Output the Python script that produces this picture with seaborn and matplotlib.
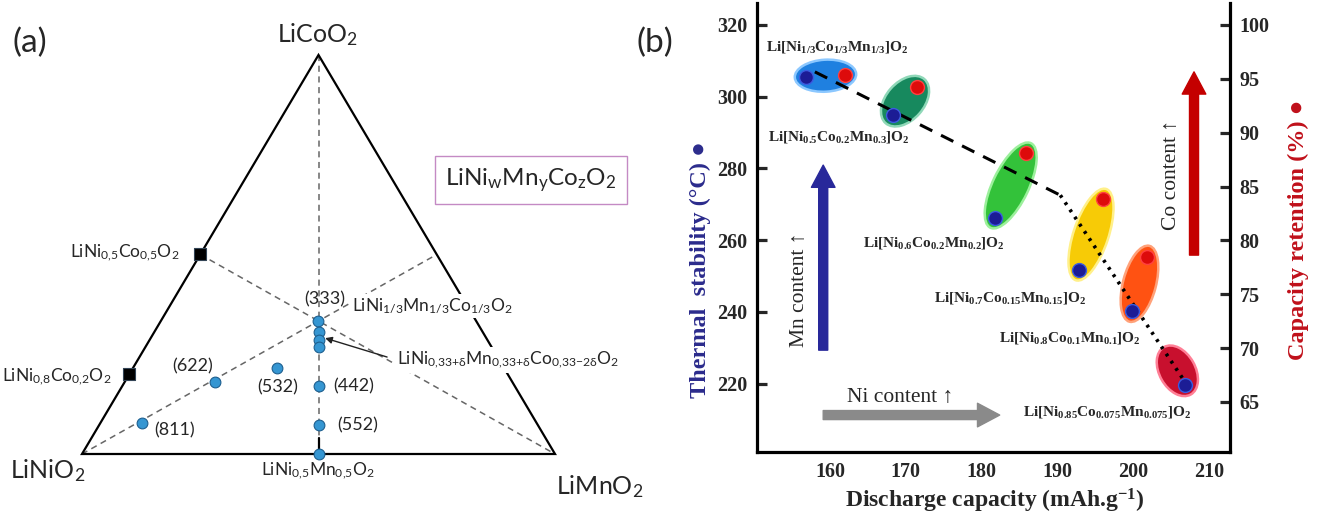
import numpy as np
import matplotlib
matplotlib.use("Agg")
import matplotlib.pyplot as plt
import matplotlib.transforms as mtransforms
from matplotlib.patches import Ellipse, Polygon
import seaborn as sns

# ---------------- panel (a): Li(Ni,Mn,Co)O2 ternary ----------------
# compositions as fractions (Ni, Mn, Co)
nmc_ni = [0.333, 0.346, 0.356, 0.365, 0.414, 0.463, 0.500, 0.480, 0.629, 0.834]
nmc_mn = [0.333, 0.348, 0.358, 0.367, 0.416, 0.465, 0.500, 0.304, 0.191, 0.088]
nmc_co = [0.333, 0.306, 0.286, 0.268, 0.170, 0.072, 0.000, 0.216, 0.180, 0.078]
nc_ni = [0.5, 0.8]
nc_mn = [0.0, 0.0]
nc_co = [0.5, 0.2]
code_labels = ["(333)", "(442)", "(552)", "(532)", "(622)", "(811)"]

# ---------------- panel (b): thermal stability / capacity retention ----------------
materials = [r"$\mathbf{Li[Ni_{1/3}Co_{1/3}Mn_{1/3}]O_2}$",
             r"$\mathbf{Li[Ni_{0.5}Co_{0.2}Mn_{0.3}]O_2}$",
             r"$\mathbf{Li[Ni_{0.6}Co_{0.2}Mn_{0.2}]O_2}$",
             r"$\mathbf{Li[Ni_{0.7}Co_{0.15}Mn_{0.15}]O_2}$",
             r"$\mathbf{Li[Ni_{0.8}Co_{0.1}Mn_{0.1}]O_2}$",
             r"$\mathbf{Li[Ni_{0.85}Co_{0.075}Mn_{0.075}]O_2}$"]
thermal_cap = [156.8, 168.3, 181.8, 192.9, 199.9, 206.9]
thermal_temp = [305.5, 294.9, 266.2, 251.7, 240.2, 219.6]
retention_cap = [162.0, 171.5, 185.9, 196.0, 201.8, 204.8]
retention_pct = [95.4, 94.2, 88.1, 83.8, 78.5, 69.2]
trend_cap = [158.0, 190.4, 207.0]
trend_temp = [306.9, 272.5, 220.0]
ellipse_colors = ["#1f80e0", "#17895e", "#33c23a", "#f7cb06", "#ff5212", "#c8102e"]
ellipse_edges = ["#8cc8ff", "#8fd8b8", "#9cf09c", "#fff08a", "#ffa27a", "#ff7f96"]
ellipse_minor = [32, 38, 36, 35, 33, 36]

sns.set_theme(style="white")
plt.rcParams["mathtext.fontset"] = "custom"
plt.rcParams["mathtext.rm"] = "Liberation Serif"
plt.rcParams["mathtext.bf"] = "Liberation Serif:bold"
plt.rcParams["mathtext.it"] = "Liberation Serif:italic"
plt.rcParams["mathtext.sf"] = "Lato"
plt.rcParams["font.family"] = ["Lato", "DejaVu Sans"]

fig = plt.figure(figsize=(13.2, 5.17), dpi=100)
W, H = 1320, 517

# ---- (a) ----
ax_a = fig.add_axes([0, 0, 0.5, 1])
ax_a.set_xlim(-82 / 473, (660 - 82) / 473)
ax_a.set_ylim(-(517 - 454) / 473, 454 / 473)
ax_a.axis("off")
TH = 0.8436  # apex height of the drawn triangle


def tern(ni, mn, co):
    ni, mn, co = np.asarray(ni), np.asarray(mn), np.asarray(co)
    return mn + 0.5 * co, TH * co


corners = np.array([tern(1, 0, 0), tern(0, 1, 0), tern(0, 0, 1)])
ax_a.add_patch(Polygon(corners, closed=True, fill=False, ec="black", lw=1.6, zorder=2))

guide = dict(color="#666666", ls=(0, (4, 3)), lw=1.1, zorder=1)
gx, gy = tern([0, 0.5], [0, 0.5], [1, 0])
ax_a.plot(gx, gy, **guide)
gx, gy = tern([0.5, 0], [0, 1], [0.5, 0])
ax_a.plot(gx, gy, **guide)
gx, gy = tern([1, 0], [0, 0.5], [0, 0.5])
ax_a.plot(gx, gy, **guide)
gx, gy = tern([0.48, 0.5], [0.48, 0.5], [0.04, 0])
ax_a.plot(gx, gy, color="black", lw=1.6, zorder=2)

px, py = tern(nmc_ni, nmc_mn, nmc_co)
sns.scatterplot(x=px, y=py, ax=ax_a, s=60, color="#3596d2", edgecolor="#1d5f8f",
                linewidth=0.8, zorder=5)
sx, sy = tern(nc_ni, nc_mn, nc_co)
sns.scatterplot(x=sx, y=sy, ax=ax_a, s=64, marker="s", color="black",
                edgecolor="#334455", linewidth=0.8, zorder=5)

big = dict(fontsize=18, ha="center", va="center")
ax_a.text(0.499, 0.886, r"$\mathsf{LiCoO_2}$", **big)
ax_a.text(-0.072, -0.034, r"$\mathsf{LiNiO_2}$", **big)
ax_a.text(1.095, -0.068, r"$\mathsf{LiMnO_2}$", **big)

small = dict(fontsize=12.5, va="center")
ax_a.text(0.207, 0.425, r"$\mathsf{LiNi_{0{,}5}Co_{0{,}5}O_2}$", ha="right", **small)
ax_a.text(0.063, 0.163, r"$\mathsf{LiNi_{0{,}8}Co_{0{,}2}O_2}$", ha="right", **small)
ax_a.text(0.499, -0.036, r"$\mathsf{LiNi_{0{,}5}Mn_{0{,}5}O_2}$", ha="center", **small)
ax_a.text(0.571, 0.313, r"$\mathsf{LiNi_{1/3}Mn_{1/3}Co_{1/3}O_2}$", ha="left", zorder=3,
          bbox=dict(fc="white", ec="none", pad=2), **small)
ax_a.text(0.666, 0.199, r"$\mathsf{LiNi_{0{,}33{+}\delta}Mn_{0{,}33{+}\delta}Co_{0{,}33{-}2\delta}O_2}$",
          ha="left", zorder=3, bbox=dict(fc="white", ec="none", pad=2), **small)
ax_a.annotate("", xy=(0.514, 0.245), xytext=(0.645, 0.205), zorder=6,
              arrowprops=dict(arrowstyle="-|>", color="#222222", lw=1.0,
                              mutation_scale=10, shrinkA=0, shrinkB=0))

code_pos = [(0.514, 0.326, "center"), (0.531, 0.142, "left"), (0.539, 0.061, "left"),
            (0.414, 0.140, "center"), (0.233, 0.186, "center"), (0.195, 0.051, "center")]
for lab, (cx, cy, ha) in zip(code_labels, code_pos):
    ax_a.text(cx, cy, lab, fontsize=13, ha=ha, va="center")

ax_a.text(0.949, 0.579, r"$\mathsf{LiNi_wMn_yCo_zO_2}$", fontsize=17.5, ha="center", va="center",
          bbox=dict(fc="white", ec="#c48ac4", lw=1.0, boxstyle="square,pad=0.42"))

fig.text(30 / W, 1 - 43 / H, "(a)", fontsize=24, ha="center", va="center")
fig.text(655 / W, 1 - 43 / H, "(b)", fontsize=24, ha="center", va="center")

# ---- (b) ----
serif = ["Liberation Serif", "DejaVu Serif"]
ax_b = fig.add_axes([757 / W, 1 - 452 / H, 473 / W, 449 / H])
ax_b.set_xlim(150.36, 212.8)
ax_b.set_ylim(200.9, 326.1)
ax_r = ax_b.twinx()
ax_r.set_ylim(60.35, 102.04)

for a in (ax_b, ax_r):
    a.spines["top"].set_visible(False)
    for s in a.spines.values():
        s.set_linewidth(2.3)
        s.set_color("black")
    a.tick_params(direction="in", length=7, width=2.3, labelsize=14.5, pad=7)
ax_r.spines["left"].set_visible(False)
ax_r.spines["bottom"].set_visible(False)
ax_b.spines["right"].set_visible(False)
ax_b.set_xticks(range(160, 211, 10))
ax_b.set_yticks(range(220, 321, 20))
ax_r.set_yticks(range(65, 101, 5))
ax_b.tick_params(axis="y", left=True, right=False)
ax_r.tick_params(axis="y", right=True, left=False)
for lab in ax_b.get_xticklabels() + ax_b.get_yticklabels() + ax_r.get_yticklabels():
    lab.set_fontfamily(serif)
    lab.set_fontweight("bold")

# ellipses around each blue/red pair, in display space
for i in range(len(thermal_cap)):
    pb = ax_b.transData.transform((thermal_cap[i], thermal_temp[i]))
    pr = ax_r.transData.transform((retention_cap[i], retention_pct[i]))
    d = pr - pb
    ang = np.degrees(np.arctan2(d[1], d[0]))
    e = Ellipse((pb + pr) / 2, np.hypot(*d) + 22, ellipse_minor[i], angle=ang,
                transform=mtransforms.IdentityTransform(), fc=ellipse_colors[i],
                ec=ellipse_edges[i], lw=1.8, zorder=1)
    ax_b.add_patch(e)

ax_b.plot(trend_cap[:2], trend_temp[:2], color="black", lw=2.2, ls=(0, (4.5, 3.2)), zorder=3)
ax_b.plot(trend_cap[1:], trend_temp[1:], color="black", lw=2.6, ls=(0, (0.8, 1.6)), zorder=3)

sns.scatterplot(x=thermal_cap, y=thermal_temp, ax=ax_b, s=100, color="#1c1c95",
                edgecolor="#3b5be0", linewidth=1.0, zorder=5)
# the last retention point sits hidden inside the crimson ellipse in the original
sns.scatterplot(x=retention_cap[:5], y=retention_pct[:5], ax=ax_r, s=100, color="#dd0b0b",
                edgecolor="#ff4040", linewidth=1.0, zorder=5)

lab_pos = [(160.9, 313.9), (161.2, 288.8), (173.7, 259.2), (183.8, 243.9), (191.7, 232.7), (196.6, 212.0)]
for m, (lx, ly) in zip(materials, lab_pos):
    ax_b.text(lx, ly, m, fontsize=11, ha="center", va="center", zorder=6)

ax_b.annotate("", xy=(159.1, 280.9), xytext=(159.1, 229.3),
              arrowprops=dict(width=6.5, headwidth=17, headlength=16, color="#28289a", shrink=0))
ax_b.annotate("", xy=(182.4, 211.2), xytext=(159.1, 211.2),
              arrowprops=dict(width=6.5, headwidth=17, headlength=16, color="#8a8a8a", shrink=0))
ax_b.annotate("", xy=(208.05, 306.9), xytext=(208.05, 255.8),
              arrowprops=dict(width=6.5, headwidth=17, headlength=16, color="#c40000", shrink=0))
txt = dict(fontsize=15.5, family=serif + ["DejaVu Sans"], ha="center", va="center")
ax_b.text(156.0, 246.1, "Mn content \u2191", rotation=90, **txt)
ax_b.text(169.2, 216.2, "Ni content \u2191", **txt)
ax_b.text(205.1, 278.2, "Co content \u2191", rotation=90, **txt)

lab = dict(fontsize=17.5, fontweight="bold", family=serif + ["DejaVu Sans"], rotation=90,
           ha="center", va="center")
fig.text(700 / W, 1 - 270 / H, "Thermal  stability (\u00b0C) \u25cf", color="#2b2b8c", **lab)
fig.text(1298 / W, 1 - 230 / H, "Capacity retention (%) \u25cf", color="#c0101a", **lab)
fig.text(995 / W, 1 - 501 / H, r"Discharge capacity (mAh.g$^{\mathbf{-1}}$)", fontsize=17,
         fontweight="bold", family=serif, ha="center", va="center")

fig.savefig("out.png", dpi=100)
plt.close(fig)
